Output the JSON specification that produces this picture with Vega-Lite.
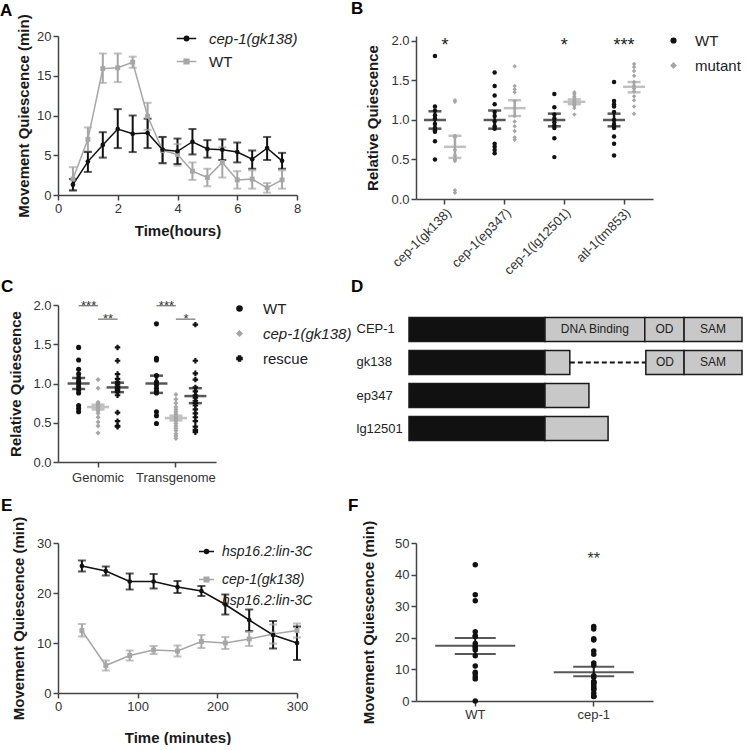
{
"$schema": "https://vega.github.io/schema/vega-lite/v6.json",
"padding": {"left": 0, "top": 0, "right": 0, "bottom": 0},
"background": "white",
"config": {
  "font": "Liberation Sans",
  "view": {"stroke": null},
  "title": {"font": "Liberation Sans", "fontSize": 17, "fontWeight": "bold", "color": "#000000", "anchor": "start", "frame": "group"},
  "axis": {"domainColor": "#444444", "domainWidth": 1.5, "tickColor": "#444444", "tickWidth": 1.5, "tickSize": 5, "labelColor": "#333333", "labelFont": "Liberation Sans", "labelFontSize": 13, "labelPadding": 2, "labelOverlap": false, "labelFlush": false, "titleFont": "Liberation Sans", "titleFontSize": 15, "titleFontWeight": "bold", "titleColor": "#1a1a1a", "grid": false},
  "legend": {"padding": 0, "labelFont": "Liberation Sans", "labelColor": "#222222", "labelFontSize": 15, "titlePadding": 0},
  "text": {"font": "Liberation Sans"}
},
"datasets": {
  "A": [
    {"t":0.5,"strain":"WT","m":2.0,"lo":0.5,"hi":3.5},
    {"t":1.0,"strain":"WT","m":7.0,"lo":5.5,"hi":8.5},
    {"t":1.5,"strain":"WT","m":15.9,"lo":14.1,"hi":17.8},
    {"t":2.0,"strain":"WT","m":16.0,"lo":14.2,"hi":17.8},
    {"t":2.5,"strain":"WT","m":16.7,"lo":16.0,"hi":17.4},
    {"t":3.0,"strain":"WT","m":9.9,"lo":8.2,"hi":11.6},
    {"t":3.5,"strain":"WT","m":5.6,"lo":4.0,"hi":7.3},
    {"t":4.0,"strain":"WT","m":5.1,"lo":3.7,"hi":6.4},
    {"t":4.5,"strain":"WT","m":3.0,"lo":1.9,"hi":4.1},
    {"t":5.0,"strain":"WT","m":2.2,"lo":1.1,"hi":3.3},
    {"t":5.5,"strain":"WT","m":4.1,"lo":2.2,"hi":6.0},
    {"t":6.0,"strain":"WT","m":1.9,"lo":0.8,"hi":3.0},
    {"t":6.5,"strain":"WT","m":2.0,"lo":0.8,"hi":3.1},
    {"t":7.0,"strain":"WT","m":0.9,"lo":0.3,"hi":1.5},
    {"t":7.5,"strain":"WT","m":1.9,"lo":0.8,"hi":3.1},
    {"t":0.5,"strain":"cep-1(gk138)","m":1.3,"lo":0.6,"hi":2.0},
    {"t":1.0,"strain":"cep-1(gk138)","m":4.2,"lo":2.9,"hi":5.4},
    {"t":1.5,"strain":"cep-1(gk138)","m":6.3,"lo":4.7,"hi":7.9},
    {"t":2.0,"strain":"cep-1(gk138)","m":8.3,"lo":5.9,"hi":10.8},
    {"t":2.5,"strain":"cep-1(gk138)","m":7.7,"lo":5.4,"hi":10.0},
    {"t":3.0,"strain":"cep-1(gk138)","m":7.8,"lo":5.9,"hi":9.6},
    {"t":3.5,"strain":"cep-1(gk138)","m":5.7,"lo":4.0,"hi":7.3},
    {"t":4.0,"strain":"cep-1(gk138)","m":5.5,"lo":3.9,"hi":7.1},
    {"t":4.5,"strain":"cep-1(gk138)","m":6.7,"lo":5.1,"hi":8.3},
    {"t":5.0,"strain":"cep-1(gk138)","m":5.8,"lo":4.7,"hi":6.9},
    {"t":5.5,"strain":"cep-1(gk138)","m":5.7,"lo":4.4,"hi":7.0},
    {"t":6.0,"strain":"cep-1(gk138)","m":5.4,"lo":4.1,"hi":6.6},
    {"t":6.5,"strain":"cep-1(gk138)","m":4.5,"lo":3.3,"hi":5.6},
    {"t":7.0,"strain":"cep-1(gk138)","m":5.9,"lo":4.4,"hi":7.3},
    {"t":7.5,"strain":"cep-1(gk138)","m":4.3,"lo":3.3,"hi":5.3}
  ],
  "B_pts": [
    {"cat":"cep-1(gk138)","strain":"WT","v":1.81},{"cat":"cep-1(gk138)","strain":"WT","v":1.17},{"cat":"cep-1(gk138)","strain":"WT","v":1.12},{"cat":"cep-1(gk138)","strain":"WT","v":1.06},{"cat":"cep-1(gk138)","strain":"WT","v":1.02},{"cat":"cep-1(gk138)","strain":"WT","v":0.95},{"cat":"cep-1(gk138)","strain":"WT","v":0.90},{"cat":"cep-1(gk138)","strain":"WT","v":0.87},{"cat":"cep-1(gk138)","strain":"WT","v":0.85},{"cat":"cep-1(gk138)","strain":"WT","v":0.73},{"cat":"cep-1(gk138)","strain":"WT","v":0.50},
    {"cat":"cep-1(gk138)","strain":"mutant","v":1.25},{"cat":"cep-1(gk138)","strain":"mutant","v":1.23},{"cat":"cep-1(gk138)","strain":"mutant","v":0.80},{"cat":"cep-1(gk138)","strain":"mutant","v":0.78},{"cat":"cep-1(gk138)","strain":"mutant","v":0.62},{"cat":"cep-1(gk138)","strain":"mutant","v":0.55},{"cat":"cep-1(gk138)","strain":"mutant","v":0.52},{"cat":"cep-1(gk138)","strain":"mutant","v":0.50},{"cat":"cep-1(gk138)","strain":"mutant","v":0.48},{"cat":"cep-1(gk138)","strain":"mutant","v":0.11},{"cat":"cep-1(gk138)","strain":"mutant","v":0.08},
    {"cat":"cep-1(ep347)","strain":"WT","v":1.60},{"cat":"cep-1(ep347)","strain":"WT","v":1.43},{"cat":"cep-1(ep347)","strain":"WT","v":1.31},{"cat":"cep-1(ep347)","strain":"WT","v":1.20},{"cat":"cep-1(ep347)","strain":"WT","v":1.10},{"cat":"cep-1(ep347)","strain":"WT","v":1.05},{"cat":"cep-1(ep347)","strain":"WT","v":0.98},{"cat":"cep-1(ep347)","strain":"WT","v":0.92},{"cat":"cep-1(ep347)","strain":"WT","v":0.89},{"cat":"cep-1(ep347)","strain":"WT","v":0.70},{"cat":"cep-1(ep347)","strain":"WT","v":0.66},{"cat":"cep-1(ep347)","strain":"WT","v":0.62},{"cat":"cep-1(ep347)","strain":"WT","v":0.58},
    {"cat":"cep-1(ep347)","strain":"mutant","v":1.68},{"cat":"cep-1(ep347)","strain":"mutant","v":1.43},{"cat":"cep-1(ep347)","strain":"mutant","v":1.39},{"cat":"cep-1(ep347)","strain":"mutant","v":1.35},{"cat":"cep-1(ep347)","strain":"mutant","v":1.24},{"cat":"cep-1(ep347)","strain":"mutant","v":1.15},{"cat":"cep-1(ep347)","strain":"mutant","v":1.05},{"cat":"cep-1(ep347)","strain":"mutant","v":0.98},{"cat":"cep-1(ep347)","strain":"mutant","v":0.92},{"cat":"cep-1(ep347)","strain":"mutant","v":0.86},{"cat":"cep-1(ep347)","strain":"mutant","v":0.78},{"cat":"cep-1(ep347)","strain":"mutant","v":0.75},
    {"cat":"cep-1(lg12501)","strain":"WT","v":1.33},{"cat":"cep-1(lg12501)","strain":"WT","v":1.16},{"cat":"cep-1(lg12501)","strain":"WT","v":1.07},{"cat":"cep-1(lg12501)","strain":"WT","v":1.02},{"cat":"cep-1(lg12501)","strain":"WT","v":0.97},{"cat":"cep-1(lg12501)","strain":"WT","v":0.93},{"cat":"cep-1(lg12501)","strain":"WT","v":0.90},{"cat":"cep-1(lg12501)","strain":"WT","v":0.77},{"cat":"cep-1(lg12501)","strain":"WT","v":0.53},
    {"cat":"cep-1(lg12501)","strain":"mutant","v":1.35},{"cat":"cep-1(lg12501)","strain":"mutant","v":1.33},{"cat":"cep-1(lg12501)","strain":"mutant","v":1.30},{"cat":"cep-1(lg12501)","strain":"mutant","v":1.28},{"cat":"cep-1(lg12501)","strain":"mutant","v":1.25},{"cat":"cep-1(lg12501)","strain":"mutant","v":1.23},{"cat":"cep-1(lg12501)","strain":"mutant","v":1.22},{"cat":"cep-1(lg12501)","strain":"mutant","v":1.20},{"cat":"cep-1(lg12501)","strain":"mutant","v":1.18},{"cat":"cep-1(lg12501)","strain":"mutant","v":1.15},{"cat":"cep-1(lg12501)","strain":"mutant","v":1.07},
    {"cat":"atl-1(tm853)","strain":"WT","v":1.48},{"cat":"atl-1(tm853)","strain":"WT","v":1.24},{"cat":"atl-1(tm853)","strain":"WT","v":1.20},{"cat":"atl-1(tm853)","strain":"WT","v":1.17},{"cat":"atl-1(tm853)","strain":"WT","v":1.10},{"cat":"atl-1(tm853)","strain":"WT","v":1.00},{"cat":"atl-1(tm853)","strain":"WT","v":0.95},{"cat":"atl-1(tm853)","strain":"WT","v":0.92},{"cat":"atl-1(tm853)","strain":"WT","v":0.90},{"cat":"atl-1(tm853)","strain":"WT","v":0.79},{"cat":"atl-1(tm853)","strain":"WT","v":0.70},{"cat":"atl-1(tm853)","strain":"WT","v":0.55},
    {"cat":"atl-1(tm853)","strain":"mutant","v":1.71},{"cat":"atl-1(tm853)","strain":"mutant","v":1.67},{"cat":"atl-1(tm853)","strain":"mutant","v":1.62},{"cat":"atl-1(tm853)","strain":"mutant","v":1.56},{"cat":"atl-1(tm853)","strain":"mutant","v":1.48},{"cat":"atl-1(tm853)","strain":"mutant","v":1.43},{"cat":"atl-1(tm853)","strain":"mutant","v":1.40},{"cat":"atl-1(tm853)","strain":"mutant","v":1.36},{"cat":"atl-1(tm853)","strain":"mutant","v":1.30},{"cat":"atl-1(tm853)","strain":"mutant","v":1.25},{"cat":"atl-1(tm853)","strain":"mutant","v":1.17},{"cat":"atl-1(tm853)","strain":"mutant","v":1.08}
  ],
  "B_sum": [
    {"cat":"cep-1(gk138)","strain":"WT","m":1.0,"lo":0.89,"hi":1.11},
    {"cat":"cep-1(gk138)","strain":"mutant","m":0.66,"lo":0.52,"hi":0.80},
    {"cat":"cep-1(ep347)","strain":"WT","m":1.0,"lo":0.89,"hi":1.12},
    {"cat":"cep-1(ep347)","strain":"mutant","m":1.15,"lo":1.05,"hi":1.25},
    {"cat":"cep-1(lg12501)","strain":"WT","m":1.0,"lo":0.92,"hi":1.08},
    {"cat":"cep-1(lg12501)","strain":"mutant","m":1.23,"lo":1.20,"hi":1.26},
    {"cat":"atl-1(tm853)","strain":"WT","m":1.0,"lo":0.92,"hi":1.08},
    {"cat":"atl-1(tm853)","strain":"mutant","m":1.42,"lo":1.35,"hi":1.48}
  ],
  "B_sig": [
    {"cat":"cep-1(gk138)","label":"*","y":1.87},
    {"cat":"cep-1(lg12501)","label":"*","y":1.87},
    {"cat":"atl-1(tm853)","label":"***","y":1.87}
  ],
  "C_pts": [
    {"grp":"Genomic","strain":"WT","v":1.46},{"grp":"Genomic","strain":"WT","v":1.30},{"grp":"Genomic","strain":"WT","v":1.18},{"grp":"Genomic","strain":"WT","v":1.12},{"grp":"Genomic","strain":"WT","v":1.07},{"grp":"Genomic","strain":"WT","v":1.03},{"grp":"Genomic","strain":"WT","v":1.00},{"grp":"Genomic","strain":"WT","v":0.96},{"grp":"Genomic","strain":"WT","v":0.92},{"grp":"Genomic","strain":"WT","v":0.88},{"grp":"Genomic","strain":"WT","v":0.72},{"grp":"Genomic","strain":"WT","v":0.68},{"grp":"Genomic","strain":"WT","v":0.64},
    {"grp":"Genomic","strain":"cep-1(gk138)","v":1.05},{"grp":"Genomic","strain":"cep-1(gk138)","v":0.94},{"grp":"Genomic","strain":"cep-1(gk138)","v":0.76},{"grp":"Genomic","strain":"cep-1(gk138)","v":0.74},{"grp":"Genomic","strain":"cep-1(gk138)","v":0.72},{"grp":"Genomic","strain":"cep-1(gk138)","v":0.70},{"grp":"Genomic","strain":"cep-1(gk138)","v":0.69},{"grp":"Genomic","strain":"cep-1(gk138)","v":0.67},{"grp":"Genomic","strain":"cep-1(gk138)","v":0.65},{"grp":"Genomic","strain":"cep-1(gk138)","v":0.62},{"grp":"Genomic","strain":"cep-1(gk138)","v":0.57},{"grp":"Genomic","strain":"cep-1(gk138)","v":0.51},{"grp":"Genomic","strain":"cep-1(gk138)","v":0.46},{"grp":"Genomic","strain":"cep-1(gk138)","v":0.37},
    {"grp":"Genomic","strain":"rescue","v":1.46},{"grp":"Genomic","strain":"rescue","v":1.29},{"grp":"Genomic","strain":"rescue","v":1.12},{"grp":"Genomic","strain":"rescue","v":1.06},{"grp":"Genomic","strain":"rescue","v":1.02},{"grp":"Genomic","strain":"rescue","v":0.99},{"grp":"Genomic","strain":"rescue","v":0.96},{"grp":"Genomic","strain":"rescue","v":0.94},{"grp":"Genomic","strain":"rescue","v":0.92},{"grp":"Genomic","strain":"rescue","v":0.89},{"grp":"Genomic","strain":"rescue","v":0.85},{"grp":"Genomic","strain":"rescue","v":0.63},{"grp":"Genomic","strain":"rescue","v":0.52},{"grp":"Genomic","strain":"rescue","v":0.46},{"grp":"Genomic","strain":"rescue","v":0.45},
    {"grp":"Transgenome","strain":"WT","v":1.76},{"grp":"Transgenome","strain":"WT","v":1.32},{"grp":"Transgenome","strain":"WT","v":1.30},{"grp":"Transgenome","strain":"WT","v":1.10},{"grp":"Transgenome","strain":"WT","v":1.02},{"grp":"Transgenome","strain":"WT","v":0.98},{"grp":"Transgenome","strain":"WT","v":0.94},{"grp":"Transgenome","strain":"WT","v":0.90},{"grp":"Transgenome","strain":"WT","v":0.88},{"grp":"Transgenome","strain":"WT","v":0.64},{"grp":"Transgenome","strain":"WT","v":0.59},{"grp":"Transgenome","strain":"WT","v":0.49},
    {"grp":"Transgenome","strain":"cep-1(gk138)","v":0.86},{"grp":"Transgenome","strain":"cep-1(gk138)","v":0.80},{"grp":"Transgenome","strain":"cep-1(gk138)","v":0.75},{"grp":"Transgenome","strain":"cep-1(gk138)","v":0.70},{"grp":"Transgenome","strain":"cep-1(gk138)","v":0.67},{"grp":"Transgenome","strain":"cep-1(gk138)","v":0.64},{"grp":"Transgenome","strain":"cep-1(gk138)","v":0.61},{"grp":"Transgenome","strain":"cep-1(gk138)","v":0.58},{"grp":"Transgenome","strain":"cep-1(gk138)","v":0.56},{"grp":"Transgenome","strain":"cep-1(gk138)","v":0.54},{"grp":"Transgenome","strain":"cep-1(gk138)","v":0.52},{"grp":"Transgenome","strain":"cep-1(gk138)","v":0.49},{"grp":"Transgenome","strain":"cep-1(gk138)","v":0.46},{"grp":"Transgenome","strain":"cep-1(gk138)","v":0.43},{"grp":"Transgenome","strain":"cep-1(gk138)","v":0.40},{"grp":"Transgenome","strain":"cep-1(gk138)","v":0.36},{"grp":"Transgenome","strain":"cep-1(gk138)","v":0.33},{"grp":"Transgenome","strain":"cep-1(gk138)","v":0.30},
    {"grp":"Transgenome","strain":"rescue","v":1.75},{"grp":"Transgenome","strain":"rescue","v":1.29},{"grp":"Transgenome","strain":"rescue","v":1.13},{"grp":"Transgenome","strain":"rescue","v":1.05},{"grp":"Transgenome","strain":"rescue","v":0.95},{"grp":"Transgenome","strain":"rescue","v":0.90},{"grp":"Transgenome","strain":"rescue","v":0.85},{"grp":"Transgenome","strain":"rescue","v":0.82},{"grp":"Transgenome","strain":"rescue","v":0.78},{"grp":"Transgenome","strain":"rescue","v":0.75},{"grp":"Transgenome","strain":"rescue","v":0.72},{"grp":"Transgenome","strain":"rescue","v":0.67},{"grp":"Transgenome","strain":"rescue","v":0.62},{"grp":"Transgenome","strain":"rescue","v":0.57},{"grp":"Transgenome","strain":"rescue","v":0.52},{"grp":"Transgenome","strain":"rescue","v":0.45},{"grp":"Transgenome","strain":"rescue","v":0.41},{"grp":"Transgenome","strain":"rescue","v":0.38}
  ],
  "C_sum": [
    {"grp":"Genomic","strain":"WT","m":1.0,"lo":0.93,"hi":1.07},
    {"grp":"Genomic","strain":"cep-1(gk138)","m":0.70,"lo":0.67,"hi":0.73},
    {"grp":"Genomic","strain":"rescue","m":0.95,"lo":0.89,"hi":1.01},
    {"grp":"Transgenome","strain":"WT","m":1.0,"lo":0.88,"hi":1.10},
    {"grp":"Transgenome","strain":"cep-1(gk138)","m":0.56,"lo":0.53,"hi":0.59},
    {"grp":"Transgenome","strain":"rescue","m":0.84,"lo":0.75,"hi":0.94}
  ],
  "C_br": [
    {"grp":"Genomic","strain":"WT","br":"g1","y":1.99},{"grp":"Genomic","strain":"cep-1(gk138)","br":"g1","y":1.99},
    {"grp":"Genomic","strain":"cep-1(gk138)","br":"g2","y":1.82},{"grp":"Genomic","strain":"rescue","br":"g2","y":1.82},
    {"grp":"Transgenome","strain":"WT","br":"t1","y":1.99},{"grp":"Transgenome","strain":"cep-1(gk138)","br":"t1","y":1.99},
    {"grp":"Transgenome","strain":"cep-1(gk138)","br":"t2","y":1.82},{"grp":"Transgenome","strain":"rescue","br":"t2","y":1.82}
  ],
  "C_txt": [
    {"grp":"Genomic","strain":"WT","label":"***","y":1.99},
    {"grp":"Genomic","strain":"cep-1(gk138)","label":"**","y":1.82},
    {"grp":"Transgenome","strain":"WT","label":"***","y":1.99},
    {"grp":"Transgenome","strain":"cep-1(gk138)","label":"*","y":1.82}
  ],
  "D": [
    {"construct":"CEP-1","part":"black","start":0,"end":263,"label":""},
    {"construct":"CEP-1","part":"grey","start":263,"end":456,"label":"DNA Binding"},
    {"construct":"CEP-1","part":"grey","start":456,"end":532,"label":"OD"},
    {"construct":"CEP-1","part":"grey","start":532,"end":644,"label":"SAM"},
    {"construct":"gk138","part":"black","start":0,"end":263,"label":""},
    {"construct":"gk138","part":"grey","start":263,"end":311,"label":""},
    {"construct":"gk138","part":"grey","start":458,"end":532,"label":"OD"},
    {"construct":"gk138","part":"grey","start":532,"end":644,"label":"SAM"},
    {"construct":"ep347","part":"black","start":0,"end":263,"label":""},
    {"construct":"ep347","part":"grey","start":263,"end":348,"label":""},
    {"construct":"lg12501","part":"black","start":0,"end":263,"label":""},
    {"construct":"lg12501","part":"grey","start":263,"end":385,"label":""}
  ],
  "D_del": [
    {"construct":"gk138","start":311,"end":458}
  ],
  "E": [
    {"t":30,"strain":"cep-1(gk138) hsp16.2:lin-3C","m":12.5,"lo":11.3,"hi":13.8},
    {"t":60,"strain":"cep-1(gk138) hsp16.2:lin-3C","m":5.5,"lo":4.5,"hi":6.5},
    {"t":90,"strain":"cep-1(gk138) hsp16.2:lin-3C","m":7.5,"lo":6.5,"hi":8.5},
    {"t":120,"strain":"cep-1(gk138) hsp16.2:lin-3C","m":8.6,"lo":7.8,"hi":9.4},
    {"t":150,"strain":"cep-1(gk138) hsp16.2:lin-3C","m":8.4,"lo":7.3,"hi":9.5},
    {"t":180,"strain":"cep-1(gk138) hsp16.2:lin-3C","m":10.3,"lo":9.0,"hi":11.6},
    {"t":210,"strain":"cep-1(gk138) hsp16.2:lin-3C","m":10.0,"lo":8.8,"hi":11.2},
    {"t":240,"strain":"cep-1(gk138) hsp16.2:lin-3C","m":10.8,"lo":9.4,"hi":12.2},
    {"t":270,"strain":"cep-1(gk138) hsp16.2:lin-3C","m":11.8,"lo":9.9,"hi":13.7},
    {"t":300,"strain":"cep-1(gk138) hsp16.2:lin-3C","m":12.5,"lo":11.1,"hi":13.9},
    {"t":30,"strain":"hsp16.2:lin-3C","m":25.4,"lo":24.3,"hi":26.5},
    {"t":60,"strain":"hsp16.2:lin-3C","m":24.4,"lo":23.5,"hi":25.3},
    {"t":90,"strain":"hsp16.2:lin-3C","m":22.3,"lo":20.7,"hi":23.9},
    {"t":120,"strain":"hsp16.2:lin-3C","m":22.3,"lo":20.9,"hi":23.8},
    {"t":150,"strain":"hsp16.2:lin-3C","m":21.2,"lo":20.0,"hi":22.4},
    {"t":180,"strain":"hsp16.2:lin-3C","m":20.4,"lo":19.4,"hi":21.4},
    {"t":210,"strain":"hsp16.2:lin-3C","m":17.7,"lo":15.7,"hi":19.7},
    {"t":240,"strain":"hsp16.2:lin-3C","m":14.6,"lo":12.4,"hi":16.7},
    {"t":270,"strain":"hsp16.2:lin-3C","m":11.6,"lo":8.9,"hi":14.4},
    {"t":300,"strain":"hsp16.2:lin-3C","m":10.0,"lo":6.6,"hi":13.3}
  ],
  "F_pts": [
    {"g":"WT","v":43.1},{"g":"WT","v":33.6},{"g":"WT","v":31.7},{"g":"WT","v":21.9},{"g":"WT","v":20.6},{"g":"WT","v":20.4},{"g":"WT","v":18.2},{"g":"WT","v":17.3},{"g":"WT","v":16.8},{"g":"WT","v":16.1},{"g":"WT","v":14.3},{"g":"WT","v":11.1},{"g":"WT","v":9.1},{"g":"WT","v":8.6},{"g":"WT","v":7.7},{"g":"WT","v":7.0},{"g":"WT","v":0.0},
    {"g":"cep-1","v":23.6},{"g":"cep-1","v":22.8},{"g":"cep-1","v":19.7},{"g":"cep-1","v":19.3},{"g":"cep-1","v":15.8},{"g":"cep-1","v":14.8},{"g":"cep-1","v":12.0},{"g":"cep-1","v":11.3},{"g":"cep-1","v":8.0},{"g":"cep-1","v":7.5},{"g":"cep-1","v":6.2},{"g":"cep-1","v":6.0},{"g":"cep-1","v":5.8},{"g":"cep-1","v":5.6},{"g":"cep-1","v":4.9},{"g":"cep-1","v":4.3},{"g":"cep-1","v":3.8},{"g":"cep-1","v":3.6},{"g":"cep-1","v":2.5},{"g":"cep-1","v":1.5},{"g":"cep-1","v":1.5},{"g":"cep-1","v":1.4}
  ],
  "F_sum": [
    {"g":"WT","m":17.5,"lo":14.9,"hi":19.9},
    {"g":"cep-1","m":9.1,"lo":7.8,"hi":10.8}
  ],
  "F_sig": [
    {"g":"cep-1","label":"**","y":43.4}
  ]
},
"spacing": 0,
"resolve": {"scale": {"color": "independent", "shape": "independent", "xOffset": "independent", "fill": "independent"}},
"vconcat": [
  {
    "bounds": "flush",
    "spacing": 119,
    "resolve": {"scale": {"color": "independent", "shape": "independent", "xOffset": "independent", "fill": "independent"}},
    "hconcat": [
      {
        "width": 239, "height": 159,
        "title": {"text": "A", "dx": -58, "offset": -6},
        "data": {"name": "A"},
        "encoding": {
          "x": {"field": "t", "type": "quantitative", "scale": {"domain": [0, 8], "nice": false}, "axis": {"values": [0, 2, 4, 6, 8], "labelOverlap": false, "title": "Time(hours)", "titlePadding": 8}},
          "color": {"field": "strain", "type": "nominal", "scale": {"domain": ["cep-1(gk138)", "WT"], "range": ["#111111", "#a6a6a6"]},
            "legend": {"title": null, "orient": "none", "legendX": 118, "legendY": -8, "symbolType": "M-1,0L1,0", "symbolSize": 380, "symbolStrokeWidth": 1.5, "labelOffset": 12, "rowPadding": 4, "labelFontSize": 15,
              "encode": {
                "symbols": {"update": {
                  "shape": {"signal": "datum.value === 'WT' ? 'M-1,0L1,0M-0.24,-0.24L0.24,-0.24L0.24,0.24L-0.24,0.24Z' : 'M-1,0L1,0M-0.22,0A0.22,0.22,0,1,0,0.22,0A0.22,0.22,0,1,0,-0.22,0Z'"},
                  "fill": {"signal": "datum.value === 'WT' ? '#a6a6a6' : '#111111'"},
                  "stroke": {"signal": "datum.value === 'WT' ? '#a6a6a6' : '#111111'"}
                }},
                "labels": {"update": {"fontStyle": {"signal": "datum.value === 'WT' ? 'normal' : 'italic'"}}}
              }}}
        },
        "layer": [
          {"mark": {"type": "rule", "strokeWidth": 2}, "encoding": {"y": {"field": "lo", "type": "quantitative", "scale": {"domain": [0, 20], "nice": false}, "axis": {"values": [0, 5, 10, 15, 20], "labelOverlap": false, "title": "Movement Quiescence (min)", "titlePadding": 5}}, "y2": {"field": "hi"}}},
          {"mark": {"type": "tick", "orient": "horizontal", "size": 8, "thickness": 2}, "encoding": {"y": {"field": "lo", "type": "quantitative", "axis": {"values": [0, 5, 10, 15, 20], "labelOverlap": false, "title": "Movement Quiescence (min)", "titlePadding": 5}}}},
          {"mark": {"type": "tick", "orient": "horizontal", "size": 8, "thickness": 2}, "encoding": {"y": {"field": "hi", "type": "quantitative", "axis": {"values": [0, 5, 10, 15, 20], "labelOverlap": false, "title": "Movement Quiescence (min)", "titlePadding": 5}}}},
          {"mark": {"type": "line", "strokeWidth": 1.5}, "encoding": {"y": {"field": "m", "type": "quantitative", "axis": {"values": [0, 5, 10, 15, 20], "labelOverlap": false, "title": "Movement Quiescence (min)", "titlePadding": 5}}}},
          {"transform": [{"filter": "datum.strain === 'WT'"}], "mark": {"type": "square", "size": 24, "opacity": 1}, "encoding": {"y": {"field": "m", "type": "quantitative", "axis": {"values": [0, 5, 10, 15, 20], "labelOverlap": false, "title": "Movement Quiescence (min)", "titlePadding": 5}}}},
          {"transform": [{"filter": "datum.strain !== 'WT'"}], "mark": {"type": "circle", "size": 22, "opacity": 1}, "encoding": {"y": {"field": "m", "type": "quantitative", "axis": {"values": [0, 5, 10, 15, 20], "labelOverlap": false, "title": "Movement Quiescence (min)", "titlePadding": 5}}}}
        ]
      },
      {
        "width": 237, "height": 163,
        "title": {"text": "B", "dx": -65, "offset": 15},
        "layer": [
          {"data": {"name": "B_pts"}, "mark": {"type": "point", "filled": true, "size": 20, "opacity": 1},
           "encoding": {
             "x": {"field": "cat", "type": "nominal", "scale": {"domain": ["cep-1(gk138)", "cep-1(ep347)", "cep-1(lg12501)", "atl-1(tm853)"], "paddingInner": 0.33, "paddingOuter": 0.15}, "axis": {"title": null, "labelAngle": -45}},
             "xOffset": {"field": "strain", "type": "nominal", "scale": {"domain": ["WT", "mutant"], "paddingInner": 0, "paddingOuter": 0}},
             "y": {"field": "v", "type": "quantitative", "scale": {"domain": [0, 2.063], "nice": false}, "axis": {"values": [0, 0.5, 1, 1.5, 2], "format": ".1f", "labelOverlap": false, "title": "Relative Quiescence", "titlePadding": 10}},
             "color": {"field": "strain", "type": "nominal", "scale": {"domain": ["WT", "mutant"], "range": ["#111111", "#a6a6a6"]},
               "legend": {"title": null, "orient": "none", "legendX": 250, "legendY": -3, "symbolSize": 22, "labelOffset": 14, "rowPadding": 9, "labelFontSize": 15}},
             "shape": {"field": "strain", "type": "nominal", "scale": {"domain": ["WT", "mutant"], "range": ["circle", "diamond"]},
               "legend": {"title": null, "orient": "none", "legendX": 250, "legendY": -3, "symbolSize": 22, "labelOffset": 14, "rowPadding": 9, "labelFontSize": 15}}
           }},
          {"data": {"name": "B_sum"}, "mark": {"type": "rule", "strokeWidth": 2.5},
           "encoding": {"x": {"field": "cat", "type": "nominal"}, "xOffset": {"field": "strain", "type": "nominal"}, "y": {"field": "lo", "type": "quantitative"}, "y2": {"field": "hi"}, "color": {"field": "strain", "type": "nominal"}}},
          {"data": {"name": "B_sum"}, "mark": {"type": "tick", "size": 22, "thickness": 2.5},
           "encoding": {"x": {"field": "cat", "type": "nominal"}, "xOffset": {"field": "strain", "type": "nominal"}, "y": {"field": "m", "type": "quantitative"}, "color": {"field": "strain", "type": "nominal"}}},
          {"data": {"name": "B_sum"}, "mark": {"type": "tick", "size": 13, "thickness": 2.5},
           "encoding": {"x": {"field": "cat", "type": "nominal"}, "xOffset": {"field": "strain", "type": "nominal"}, "y": {"field": "lo", "type": "quantitative"}, "color": {"field": "strain", "type": "nominal"}}},
          {"data": {"name": "B_sum"}, "mark": {"type": "tick", "size": 13, "thickness": 2.5},
           "encoding": {"x": {"field": "cat", "type": "nominal"}, "xOffset": {"field": "strain", "type": "nominal"}, "y": {"field": "hi", "type": "quantitative"}, "color": {"field": "strain", "type": "nominal"}}},
          {"data": {"name": "B_sig"}, "mark": {"type": "text", "fontSize": 18, "color": "#222222", "baseline": "alphabetic"},
           "encoding": {"x": {"field": "cat", "type": "nominal"}, "y": {"field": "y", "type": "quantitative"}, "text": {"field": "label"}}}
        ]
      }
    ]
  },
  {
    "bounds": "flush",
    "spacing": 193,
    "resolve": {"scale": {"color": "independent", "shape": "independent", "xOffset": "independent", "fill": "independent"}},
    "hconcat": [
      {
        "width": 158, "height": 157,
        "title": {"text": "C", "dx": -57, "offset": 3},
        "data": {"name": "C_pts"},
        "encoding": {
          "x": {"field": "grp", "type": "nominal", "scale": {"domain": ["Genomic", "Transgenome"], "paddingInner": 0.25, "paddingOuter": 0.14}, "axis": {"title": " ", "titleFontSize": 13, "titlePadding": 0, "labelAngle": 0, "labelPadding": 4}},
          "xOffset": {"field": "strain", "type": "nominal", "scale": {"domain": ["WT", "cep-1(gk138)", "rescue"], "paddingInner": 0, "paddingOuter": 0}},
          "color": {"field": "strain", "type": "nominal", "scale": {"domain": ["WT", "cep-1(gk138)", "rescue"], "range": ["#111111", "#a6a6a6", "#111111"]},
            "legend": {"title": null, "orient": "none", "legendX": 174, "legendY": -4, "symbolType": "circle", "symbolSize": 26, "labelOffset": 16, "rowPadding": 9, "labelFontSize": 15,
              "encode": {
                "symbols": {"update": {
                  "shape": {"signal": "datum.value === 'WT' ? 'circle' : datum.value === 'rescue' ? 'cross' : 'diamond'"},
                  "fill": {"signal": "datum.value === 'cep-1(gk138)' ? '#a6a6a6' : '#111111'"},
                  "stroke": {"signal": "datum.value === 'cep-1(gk138)' ? '#a6a6a6' : '#111111'"}
                }},
                "labels": {"update": {"fontStyle": {"signal": "datum.value === 'cep-1(gk138)' ? 'italic' : 'normal'"}}}
              }}}
        },
        "layer": [
          {"transform": [{"filter": "datum.strain === 'WT'"}], "mark": {"type": "circle", "size": 26, "opacity": 1},
           "encoding": {"y": {"field": "v", "type": "quantitative", "scale": {"domain": [0, 2], "nice": false}, "axis": {"values": [0, 0.5, 1, 1.5, 2], "format": ".1f", "labelOverlap": false, "title": "Relative Quiescence", "titlePadding": 9}}}},
          {"transform": [{"filter": "datum.strain === 'cep-1(gk138)'"}], "mark": {"type": "point", "shape": "diamond", "filled": true, "size": 26, "opacity": 1},
           "encoding": {"y": {"field": "v", "type": "quantitative", "axis": {"values": [0, 0.5, 1, 1.5, 2], "format": ".1f", "labelOverlap": false, "title": "Relative Quiescence", "titlePadding": 9}}}},
          {"transform": [{"filter": "datum.strain === 'rescue'"}], "mark": {"type": "point", "shape": "cross", "filled": true, "size": 30, "opacity": 1},
           "encoding": {"y": {"field": "v", "type": "quantitative", "axis": {"values": [0, 0.5, 1, 1.5, 2], "format": ".1f", "labelOverlap": false, "title": "Relative Quiescence", "titlePadding": 9}}}},
          {"data": {"name": "C_sum"}, "mark": {"type": "rule", "strokeWidth": 2.5},
           "encoding": {"y": {"field": "lo", "type": "quantitative", "axis": {"values": [0, 0.5, 1, 1.5, 2], "format": ".1f", "labelOverlap": false, "title": "Relative Quiescence", "titlePadding": 9}}, "y2": {"field": "hi"}}},
          {"data": {"name": "C_sum"}, "mark": {"type": "tick", "size": 22, "thickness": 2.5},
           "encoding": {"y": {"field": "m", "type": "quantitative", "axis": {"values": [0, 0.5, 1, 1.5, 2], "format": ".1f", "labelOverlap": false, "title": "Relative Quiescence", "titlePadding": 9}}}},
          {"data": {"name": "C_sum"}, "mark": {"type": "tick", "size": 13, "thickness": 2.5},
           "encoding": {"y": {"field": "lo", "type": "quantitative", "axis": {"values": [0, 0.5, 1, 1.5, 2], "format": ".1f", "labelOverlap": false, "title": "Relative Quiescence", "titlePadding": 9}}}},
          {"data": {"name": "C_sum"}, "mark": {"type": "tick", "size": 13, "thickness": 2.5},
           "encoding": {"y": {"field": "hi", "type": "quantitative", "axis": {"values": [0, 0.5, 1, 1.5, 2], "format": ".1f", "labelOverlap": false, "title": "Relative Quiescence", "titlePadding": 9}}}},
          {"data": {"name": "C_br"}, "mark": {"type": "line", "color": "#555555", "strokeWidth": 1},
           "encoding": {"y": {"field": "y", "type": "quantitative", "axis": {"values": [0, 0.5, 1, 1.5, 2], "format": ".1f", "labelOverlap": false, "title": "Relative Quiescence", "titlePadding": 9}}, "detail": {"field": "br", "type": "nominal"}, "color": {"value": "#555555"}}},
          {"data": {"name": "C_txt"}, "mark": {"type": "text", "fontSize": 13, "baseline": "alphabetic", "dx": 10, "dy": 4},
           "encoding": {"y": {"field": "y", "type": "quantitative", "axis": {"values": [0, 0.5, 1, 1.5, 2], "format": ".1f", "labelOverlap": false, "title": "Relative Quiescence", "titlePadding": 9}}, "text": {"field": "label"}, "color": {"value": "#333333"}}}
        ]
      },
      {
        "width": 333, "height": 148,
        "title": {"text": "D", "dx": -58, "offset": 9},
        "layer": [
          {"data": {"name": "D"}, "mark": {"type": "bar", "stroke": "#1a1a1a", "strokeWidth": 1.5},
           "encoding": {
             "x": {"field": "start", "type": "quantitative", "scale": {"domain": [0, 644], "nice": false}, "axis": null},
             "x2": {"field": "end"},
             "y": {"field": "construct", "type": "nominal", "scale": {"domain": ["CEP-1", "gk138", "ep347", "lg12501"], "paddingInner": 0.27, "paddingOuter": 0.377}, "axis": {"title": null, "domain": false, "ticks": false, "labelAlign": "left", "labelPadding": 53, "labelFontSize": 13, "labelColor": "#222222"}},
             "fill": {"field": "part", "type": "nominal", "scale": {"domain": ["black", "grey"], "range": ["#111111", "#c8c8c8"]}, "legend": null}
           }},
          {"data": {"name": "D_del"}, "mark": {"type": "rule", "strokeDash": [5, 3], "strokeWidth": 2, "color": "#111111"},
           "encoding": {"x": {"field": "start", "type": "quantitative"}, "x2": {"field": "end"}, "y": {"field": "construct", "type": "nominal"}}},
          {"data": {"name": "D"}, "transform": [{"filter": "datum.label != ''"}, {"calculate": "(datum.start + datum.end) / 2", "as": "mid"}],
           "mark": {"type": "text", "fontSize": 12, "color": "#222222"},
           "encoding": {"x": {"field": "mid", "type": "quantitative"}, "y": {"field": "construct", "type": "nominal"}, "text": {"field": "label"}}}
        ]
      }
    ]
  },
  {
    "bounds": "flush",
    "spacing": 119,
    "resolve": {"scale": {"color": "independent", "shape": "independent", "xOffset": "independent", "fill": "independent"}},
    "hconcat": [
      {
        "width": 239, "height": 150,
        "title": {"text": "E", "dx": -57, "offset": 1},
        "data": {"name": "E"},
        "encoding": {
          "x": {"field": "t", "type": "quantitative", "scale": {"domain": [0, 300], "nice": false}, "axis": {"values": [0, 100, 200, 300], "labelOverlap": false, "title": "Time (minutes)", "titlePadding": 17}},
          "color": {"field": "strain", "type": "nominal", "scale": {"domain": ["hsp16.2:lin-3C", "cep-1(gk138) hsp16.2:lin-3C"], "range": ["#111111", "#a6a6a6"]},
            "legend": {"title": null, "orient": "none", "legendX": 140, "legendY": 0, "symbolType": "M-1,0L1,0", "symbolSize": 225, "symbolStrokeWidth": 1.5, "labelOffset": 7, "rowPadding": 12, "labelFontSize": 14, "labelFontStyle": "italic",
              "labelExpr": "datum.value === 'hsp16.2:lin-3C' ? datum.value : ['cep-1(gk138)', 'hsp16.2:lin-3C']",
              "encode": {
                "symbols": {"update": {
                  "shape": {"signal": "datum.value === 'hsp16.2:lin-3C' ? 'M-1,0L1,0M-0.27,0A0.27,0.27,0,1,0,0.27,0A0.27,0.27,0,1,0,-0.27,0Z' : 'M-1,0L1,0M-0.3,-0.3L0.3,-0.3L0.3,0.3L-0.3,0.3Z'"},
                  "fill": {"signal": "datum.value === 'hsp16.2:lin-3C' ? '#111111' : '#a6a6a6'"},
                  "stroke": {"signal": "datum.value === 'hsp16.2:lin-3C' ? '#111111' : '#a6a6a6'"}
                }},
                "labels": {"update": {"lineHeight": {"value": 21}}}
              }}}
        },
        "layer": [
          {"mark": {"type": "rule", "strokeWidth": 2}, "encoding": {"y": {"field": "lo", "type": "quantitative", "scale": {"domain": [0, 30], "nice": false}, "axis": {"values": [0, 10, 20, 30], "labelOverlap": false, "title": "Movement Quiescence (min)", "titlePadding": 10}}, "y2": {"field": "hi"}}},
          {"mark": {"type": "tick", "orient": "horizontal", "size": 8, "thickness": 2}, "encoding": {"y": {"field": "lo", "type": "quantitative", "axis": {"values": [0, 10, 20, 30], "labelOverlap": false, "title": "Movement Quiescence (min)", "titlePadding": 10}}}},
          {"mark": {"type": "tick", "orient": "horizontal", "size": 8, "thickness": 2}, "encoding": {"y": {"field": "hi", "type": "quantitative", "axis": {"values": [0, 10, 20, 30], "labelOverlap": false, "title": "Movement Quiescence (min)", "titlePadding": 10}}}},
          {"mark": {"type": "line", "strokeWidth": 1.5}, "encoding": {"y": {"field": "m", "type": "quantitative", "axis": {"values": [0, 10, 20, 30], "labelOverlap": false, "title": "Movement Quiescence (min)", "titlePadding": 10}}}},
          {"transform": [{"filter": "datum.strain !== 'hsp16.2:lin-3C'"}], "mark": {"type": "square", "size": 24, "opacity": 1}, "encoding": {"y": {"field": "m", "type": "quantitative", "axis": {"values": [0, 10, 20, 30], "labelOverlap": false, "title": "Movement Quiescence (min)", "titlePadding": 10}}}},
          {"transform": [{"filter": "datum.strain === 'hsp16.2:lin-3C'"}], "mark": {"type": "circle", "size": 22, "opacity": 1}, "encoding": {"y": {"field": "m", "type": "quantitative", "axis": {"values": [0, 10, 20, 30], "labelOverlap": false, "title": "Movement Quiescence (min)", "titlePadding": 10}}}}
        ]
      },
      {
        "width": 237, "height": 158,
        "title": {"text": "F", "dx": -68, "offset": 5, "align": "left"},
        "encoding": {
          "x": {"field": "g", "type": "nominal", "scale": {"domain": ["WT", "cep-1"], "paddingInner": 0, "paddingOuter": 0}, "axis": {"title": null, "labelAngle": 0}}
        },
        "layer": [
          {"data": {"name": "F_pts"}, "mark": {"type": "point", "filled": true, "size": 30, "opacity": 1, "color": "#111111"},
           "encoding": {
             "y": {"field": "v", "type": "quantitative", "scale": {"domain": [0, 50], "nice": false}, "axis": {"values": [0, 10, 20, 30, 40, 50], "labelOverlap": false, "title": "Movement Quiescence (min)", "titlePadding": 18}}
           }},
          {"data": {"name": "F_sum"}, "mark": {"type": "rule", "strokeWidth": 2, "color": "#111111"},
           "encoding": {"y": {"field": "lo", "type": "quantitative", "axis": {"values": [0, 10, 20, 30, 40, 50], "labelOverlap": false, "title": "Movement Quiescence (min)", "titlePadding": 18}}, "y2": {"field": "hi"}}},
          {"data": {"name": "F_sum"}, "mark": {"type": "tick", "size": 80, "thickness": 2, "color": "#111111"},
           "encoding": {"y": {"field": "m", "type": "quantitative", "axis": {"values": [0, 10, 20, 30, 40, 50], "labelOverlap": false, "title": "Movement Quiescence (min)", "titlePadding": 18}}}},
          {"data": {"name": "F_sum"}, "mark": {"type": "tick", "size": 41, "thickness": 2, "color": "#111111"},
           "encoding": {"y": {"field": "lo", "type": "quantitative", "axis": {"values": [0, 10, 20, 30, 40, 50], "labelOverlap": false, "title": "Movement Quiescence (min)", "titlePadding": 18}}}},
          {"data": {"name": "F_sum"}, "mark": {"type": "tick", "size": 41, "thickness": 2, "color": "#111111"},
           "encoding": {"y": {"field": "hi", "type": "quantitative", "axis": {"values": [0, 10, 20, 30, 40, 50], "labelOverlap": false, "title": "Movement Quiescence (min)", "titlePadding": 18}}}},
          {"data": {"name": "F_sig"}, "mark": {"type": "text", "fontSize": 16, "color": "#333333", "baseline": "alphabetic"},
           "encoding": {"y": {"field": "y", "type": "quantitative", "axis": {"values": [0, 10, 20, 30, 40, 50], "labelOverlap": false, "title": "Movement Quiescence (min)", "titlePadding": 18}}, "text": {"field": "label"}}}
        ]
      }
    ]
  }
]
}
